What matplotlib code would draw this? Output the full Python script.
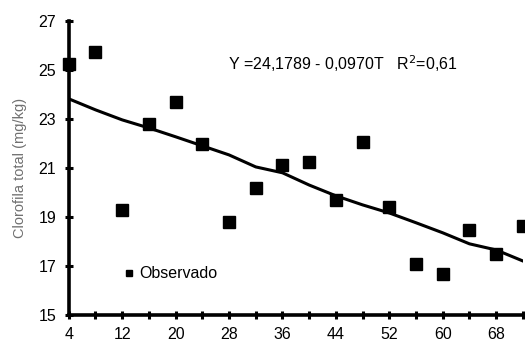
import matplotlib
matplotlib.use("Agg")
import matplotlib.pyplot as plt
from matplotlib.lines import Line2D

plt.rcParams['font.family'] = ['Liberation Sans', 'DejaVu Sans']

# observed chlorophyll values
dias = [4, 8, 12, 16, 20, 24, 28, 32, 36, 40, 44, 48, 52, 56, 60, 64, 68, 72]
observado = [25.25, 25.73, 19.29, 22.8, 23.69, 21.98, 18.8, 20.17, 21.12, 21.24,
             19.69, 22.06, 19.41, 17.08, 16.67, 18.47, 17.49, 18.63]
# fitted line
estimado = [23.82, 23.37, 22.96, 22.63, 22.27, 21.9, 21.53, 21.04, 20.8, 20.3,
            19.86, 19.49, 19.16, 18.76, 18.35, 17.9, 17.65, 17.2]

x_ticks = list(range(4, 73, 4))
x_labels = ["4", "12", "20", "28", "36", "44", "52", "60", "68"]
y_ticks = [15, 17, 19, 21, 23, 25, 27]

fig = plt.figure(figsize=(5.25, 3.43), dpi=100)
ax = fig.add_axes([0.131, 0.082, 0.865, 0.857])

ax.plot(dias, estimado, color="black", linewidth=2.2, zorder=2)
ax.plot(dias, observado, linestyle="none", marker="s", markersize=8.5,
        color="black", zorder=3, clip_on=False)

ax.set_xlim(4, 72)
ax.set_ylim(15, 27)
ax.set_xticks(x_ticks)
ax.set_xticklabels([str(t) if str(t) in x_labels else "" for t in x_ticks],
                   fontsize=11.5)
ax.set_yticks(y_ticks)
ax.set_yticklabels([str(t) for t in y_ticks], fontsize=11.5)
ax.tick_params(direction="inout", length=6, width=2.2)
ax.tick_params(axis="y", pad=6)
ax.tick_params(axis="x", pad=6)

for side in ("top", "right"):
    ax.spines[side].set_visible(False)
for side in ("left", "bottom"):
    ax.spines[side].set_linewidth(2.6)

ax.set_ylabel("Clorofila total (mg/kg)", fontsize=10.5, color="#707070", labelpad=8)

ax.text(0.35, 0.854, "Y =24,1789 - 0,0970T   R$^2$=0,61", transform=ax.transAxes,
        fontsize=11.5, ha="left", va="center")

handle = Line2D([], [], linestyle="none", marker="s", markersize=5, color="black")
ax.legend([handle], ["Observado"], loc="center left", bbox_to_anchor=(0.1, 0.14),
          frameon=False, fontsize=11.5, handletextpad=0.2, handlelength=1.0,
          borderaxespad=0)

fig.savefig("out.png", dpi=100)
